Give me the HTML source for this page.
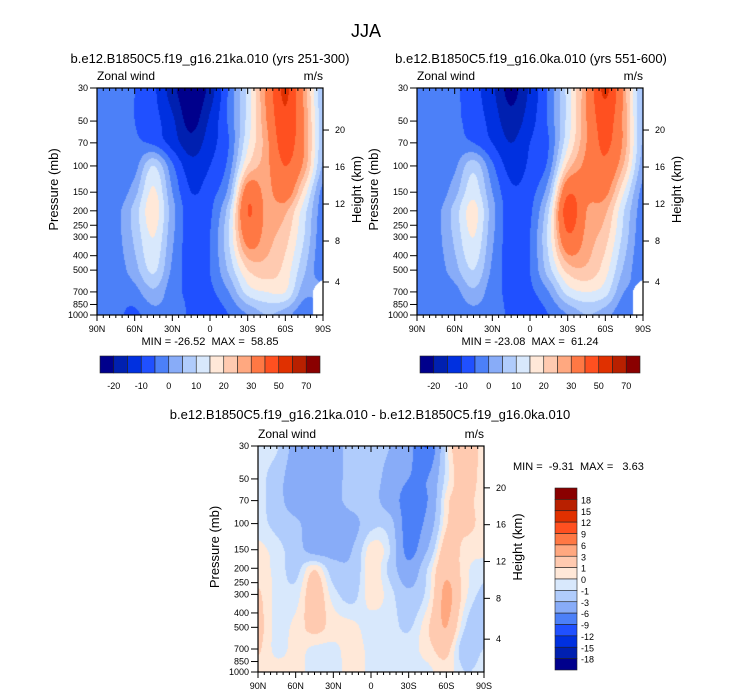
<!DOCTYPE html>
<html><head><meta charset="utf-8">
<style>
body{margin:0;background:#fff;width:733px;height:696px;overflow:hidden;position:relative;font-family:"Liberation Sans",sans-serif;}
canvas{position:absolute;}
svg{position:absolute;left:0;top:0;}
text{white-space:pre;}
</style></head>
<body>
<canvas id="c1" width="226" height="227" style="left:97px;top:88px"></canvas>
<canvas id="c2" width="226" height="227" style="left:417px;top:88px"></canvas>
<canvas id="c3" width="226" height="226" style="left:258px;top:446px"></canvas>
<svg id="svg" width="733" height="696"></svg>
<script>
// ---- data ----
const latLabels = ["90N","60N","30N","0","30S","60S","90S"];
const lats = [90,75,60,45,30,15,0,-15,-30,-45,-60,-75,-90];
const pressures = [30,50,70,100,150,200,300,500,700,1000];
const pTicks = [30,50,70,100,150,200,250,300,400,500,700,850,1000];
const kmTicks = [4,8,12,16,20];
const N = NaN;
const u21ka = [
 [-1,-2,-5,-9,-18,-25,-18,-4,12,32,52,28,6],
 [-1,-2,-5,-8,-14,-22,-14,-4,12,30,48,30,6],
 [-1,-2,-4,-6,-12,-18,-12,-5,14,28,45,30,6],
 [-3,-4,-2,10,-4,-13,-10,-3,20,28,40,28,4],
 [-4,-4,3,16,0,-10,-7,2,35,28,35,18,-2],
 [-4,-2,7,18,2,-8,-6,8,40,28,26,12,-3],
 [-4,-2,6,15,1,-8,-5,10,34,27,22,10,-4],
 [-4,-3,3,11,-1,-7,-5,6,20,23,18,6,-4],
 [-4,-4,-2,4,-3,-6,-6,0,12,15,15,2,N],
 [-4,-4,-6,-2,-2,-6,-8,-5,0,5,2,-4,N]
];
const u0ka = [
 [-2,-2,-4,-8,-14,-22,-14,-4,12,30,52,28,4],
 [-2,-2,-4,-7,-12,-18,-12,-4,12,30,45,28,4],
 [-2,-2,-3,-5,-10,-15,-10,-5,14,30,42,28,4],
 [-3,-3,-1,8,-4,-12,-9,-3,22,32,38,24,2],
 [-4,-4,3,13,0,-9,-7,4,38,32,32,15,-2],
 [-4,-2,7,17,2,-8,-6,10,45,30,26,10,-3],
 [-4,-2,6,15,1,-8,-5,12,38,28,22,8,-4],
 [-4,-3,3,10,-1,-7,-5,8,22,24,17,4,-4],
 [-4,-4,-2,4,-3,-6,-6,0,12,15,12,0,N],
 [-4,-4,-4,-2,-3,-6,-8,-5,0,5,2,-4,N]
];
const uDiff = [
 [-0.5,-0.8,-4,-4.5,-4,-2,-2,-3,-5,-9,-0.5,2.5,0.3],
 [-0.5,-2,-4.5,-4.5,-4,-2,-2,-4,-6,-6,-0.5,2,0.3],
 [-0.5,-2,-4.5,-4.5,-4,-2,-2,-4.5,-7,-6,0.5,1.5,0.3],
 [-0.5,-1.5,-2.5,-4.5,-4.5,-4,-1.5,-2,-7.5,-5,0.8,1.5,0.5],
 [0.3,-0.5,-2,-4,-4,-3,0.5,-1,-7,-3,2,0.5,0.3],
 [0.4,-0.3,-1.5,0.8,-2,-2.5,0.7,-1.5,-5,-1,2.5,0.3,-0.5],
 [1.2,-0.3,-0.5,2,-0.5,-1.5,0.5,-0.5,-2.5,-0.5,3.5,0.3,-1.5],
 [1.5,-0.3,0.3,1.5,0.5,0.3,-0.5,-0.5,-1.2,0.8,3,-1,-3],
 [1.2,-0.3,0.3,-0.2,-0.3,0.5,-0.3,-0.5,-0.5,0.5,1.5,-2,-1],
 [0.5,0.5,0.3,-0.3,-0.5,0.5,-0.3,-0.5,-0.5,-0.3,0.5,-1,-0.5]
];
const levelsMain = [-20,-15,-10,-5,0,5,10,15,20,25,30,40,50,60,70];
const levelsDiff = [-18,-15,-12,-9,-6,-3,-1,0,1,3,6,9,12,15,18];
const mainBarLabels = ["-20","-10","0","10","20","30","50","70"];
const palette = ['#00008c','#0020b0','#0030e0','#2050ff','#4c80f8','#88acf8','#b0ccfc','#d8e8fc','#ffe8d8','#ffcab0','#ffa880','#ff7844','#ff5020','#e03000','#b82000','#8a0000'];

// ---- helpers ----
const lnTop = Math.log(30), lnBot = Math.log(1000);
function yFrac(p){return (Math.log(p)-lnTop)/(lnBot-lnTop);}
function xFrac(lat){return (90-lat)/180;}
function levelIndex(v,levels){let i=0;while(i<levels.length && v>=levels[i])i++;return i;}
function hexRGB(h){return [parseInt(h.substr(1,2),16),parseInt(h.substr(3,2),16),parseInt(h.substr(5,2),16)];}
const palRGB = palette.map(hexRGB);
function cr(p0,p1,p2,p3,t){return 0.5*((2*p1)+(-p0+p2)*t+(2*p0-5*p1+4*p2-p3)*t*t+(-p0+3*p1-3*p2+p3)*t*t*t);}

function drawField(id,field,levels){
  const cv=document.getElementById(id),ctx=cv.getContext('2d');
  const W=cv.width,H=cv.height,img=ctx.createImageData(W,H);
  const R=field.length,C=field[0].length;
  // filled copy for interpolation (NaN -> left neighbour)
  const F=field.map(row=>row.map((v,j)=>isNaN(v)?row[j-1]:v));
  const lnP=pressures.map(p=>Math.log(p));
  const g=(r,c)=>F[Math.max(0,Math.min(R-1,r))][Math.max(0,Math.min(C-1,c))];
  for(let py=0;py<H;py++){
    const lp=lnTop+(py+0.5)/H*(lnBot-lnTop);
    let r=0;while(r<lnP.length-2 && lp>lnP[r+1])r++;
    let ty=(lp-lnP[r])/(lnP[r+1]-lnP[r]);ty=Math.max(0,Math.min(1,ty));
    for(let px=0;px<W;px++){
      const fx=(px+0.5)/W*(C-1);
      let c=Math.min(Math.floor(fx),C-2);const tx=fx-c;
      const o=(py*W+px)*4;
      // mask
      const ws=[(1-tx)*(1-ty),tx*(1-ty),(1-tx)*ty,tx*ty];
      const raw=[field[r][c],field[r][c+1],field[r+1][c],field[r+1][c+1]];
      let nanw=0;for(let k=0;k<4;k++)if(isNaN(raw[k]))nanw+=ws[k];
      if(nanw>0.45){img.data[o]=255;img.data[o+1]=255;img.data[o+2]=255;img.data[o+3]=255;continue;}
      const rows=[];
      for(let k=-1;k<=2;k++)rows.push(cr(g(r+k,c-1),g(r+k,c),g(r+k,c+1),g(r+k,c+2),tx));
      const v=cr(rows[0],rows[1],rows[2],rows[3],ty);
      const col=palRGB[levelIndex(v,levels)];
      img.data[o]=col[0];img.data[o+1]=col[1];img.data[o+2]=col[2];img.data[o+3]=255;
    }
  }
  ctx.putImageData(img,0,0);
}
drawField('c1',u21ka,levelsMain);
drawField('c2',u0ka,levelsMain);
drawField('c3',uDiff,levelsDiff);

const NS='http://www.w3.org/2000/svg';
const svg=document.getElementById('svg');
function el(tag,attrs,text){const e=document.createElementNS(NS,tag);for(const k in attrs)e.setAttribute(k,attrs[k]);if(text!==undefined)e.textContent=text;svg.appendChild(e);return e;}

function txt(x,y,s,size,anchor,name){
  const t=el('text',{x:x,y:y,'font-size':size,'text-anchor':anchor||'start','font-family':'Liberation Sans, sans-serif',fill:'#000'},s);
  
  
  return t;
}

function axes(x0,y0,w,h,prefix){
  const r=el('rect',{x:x0,y:y0,width:w,height:h,fill:'none',stroke:'#000','stroke-width':1.2});
  
  
  pTicks.forEach(p=>{
    const y=y0+yFrac(p)*h;
    const l=el('line',{x1:x0-7,x2:x0,y1:y,y2:y,stroke:'#000','stroke-width':1});
    
    
    txt(x0-9,y+3,String(p),9,'end',prefix+'-y-tick-label');
  });
  for(let lat=90;lat>=-90;lat-=5){
    const x=x0+xFrac(lat)*w;const major=(lat%30===0);const len=major?6:3;
    const t1=el('line',{x1:x,x2:x,y1:y0,y2:y0+len,stroke:'#000','stroke-width':1});
    
    
    const t2=el('line',{x1:x,x2:x,y1:y0+h,y2:y0+h+len,stroke:'#000','stroke-width':1});
    
    
  }
  latLabels.forEach((s,i)=>{
    const x=x0+i/(latLabels.length-1)*w;
    txt(x,y0+h+17,s,9,'middle',prefix+'-x-tick-label');
  });
  kmTicks.forEach(k=>{
    const p=1000*Math.exp(-k/7);const y=y0+yFrac(p)*h+(k===4?4:0);
    const l=el('line',{x1:x0+w,x2:x0+w+6,y1:y,y2:y,stroke:'#000','stroke-width':1});
    
    
    txt(x0+w+12,y+3,String(k),9,'start',prefix+'-height-tick-label');
  });
  txt(x0,y0-8,'Zonal wind',12,'start',prefix+'-field-label');
  txt(x0+w,y0-8,'m/s',12,'end',prefix+'-units-label');
  const yl=txt(0,0,'Pressure (mb)',13,'middle',prefix+'-y-axis-title');
  yl.setAttribute('transform','translate('+(x0-39)+','+(y0+h/2-12)+') rotate(-90)');
  const yr=txt(0,0,'Height (km)',13,'middle',prefix+'-height-axis-title');
  yr.setAttribute('transform','translate('+(x0+w+38)+','+(y0+h/2-12)+') rotate(-90)');
}

function hbar(x0,y0,prefix){
  const bw=220/palette.length;
  palette.forEach((c,i)=>{
    const r=el('rect',{x:x0+i*bw,y:y0,width:bw,height:17,fill:c,stroke:'#222','stroke-width':0.6});
    
    
  });
  mainBarLabels.forEach((s,i)=>{
    txt(x0+(2*i+1)*bw,y0+33,s,9,'middle',prefix+'-colorbar-label');
  });
}

txt(366,37,'JJA',18,'middle','main-title');
txt(210,63,'b.e12.B1850C5.f19_g16.21ka.010 (yrs 251-300)',13,'middle','panel-title-21ka');
txt(531,63,'b.e12.B1850C5.f19_g16.0ka.010 (yrs 551-600)',13,'middle','panel-title-0ka');
txt(370,419,'b.e12.B1850C5.f19_g16.21ka.010 - b.e12.B1850C5.f19_g16.0ka.010',13,'middle','panel-title-difference');

axes(97,88,226,227,'panel1');
axes(417,88,226,227,'panel2');
axes(258,446,226,226,'panel3');

txt(210,345,'MIN = -26.52  MAX =  58.85',11,'middle','panel1-min-max');
txt(530,345,'MIN = -23.08  MAX =  61.24',11,'middle','panel2-min-max');
txt(513,470,'MIN =  -9.31  MAX =   3.63',11,'start','panel3-min-max');

hbar(100,356,'panel1');
hbar(420,356,'panel2');

const vbH=182/palette.length;
palette.slice().reverse().forEach((c,i)=>{
  const r=el('rect',{x:555,y:488+i*vbH,width:22,height:vbH,fill:c,stroke:'#222','stroke-width':0.6});
  
  
});
levelsDiff.slice().reverse().forEach((v,i)=>{
  txt(581,488+(i+1)*vbH+4,String(v),9,'start','panel3-colorbar-label');
});
</script>
</body></html>
